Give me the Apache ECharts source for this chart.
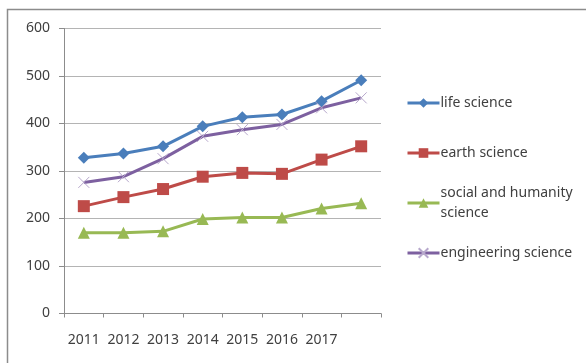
<!DOCTYPE html>
<html>
<head>
<meta charset="utf-8">
<script src="https://cdn.jsdelivr.net/npm/echarts@6/dist/echarts.min.js"></script>
<style>html,body{margin:0;padding:0;background:#fff;}#c{width:586px;height:363px;}</style>
</head>
<body>
<div id="c"></div>
<script>
const categories = ['2011','2012','2013','2014','2015','2016','2017',''];
const lifeScience = [328, 337, 352, 394, 413, 419, 447, 491];
const earthScience = [226, 245, 262, 288, 296, 294, 324, 352];
const socialScience = [170, 170, 173, 199, 202, 202, 221, 232];
const engineeringScience = [276, 288, 326, 373, 387, 398, 433, 454];
const yTicks = [0, 100, 200, 300, 400, 500, 600];

const font = 'Noto Sans';
const txt = '#404040';
const names = ['life science','earth science','social and humanity\nscience','engineering science'];
const legendCenters = [103, 153, 203, 253];

const chart = echarts.init(document.getElementById('c'), null, {renderer:'canvas'});
const xPath = 'path://M0,0L10,10M10,0L0,10';

function mkLegend(i){
  const isTwo = i === 2;
  return {
    show: true,
    orient: 'vertical',
    left: 406,
    top: isTwo ? legendCenters[i] - 30 : legendCenters[i] - 10,
    itemWidth: 32,
    itemHeight: 12,
    itemGap: 0,
    padding: 0,
    data: [names[i]],
    lineStyle: {width: 3},
    textStyle: {
      fontFamily: font, fontSize: 14, color: txt, lineHeight: 20,
      padding: isTwo ? [20, 0, 0, -4] : [0, 0, 0, -4]
    }
  };
}

const option = {
  animation: false,
  backgroundColor: '#fff',
  graphic: [{
    type: 'rect', silent: true,
    shape: {x: 7.5, y: 9.5, width: 700, height: 500},
    style: {fill: 'none', stroke: '#8c8c8c', lineWidth: 1.5}
  }],
  legend: [0,1,2,3].map(mkLegend),
  grid: {left: 64, right: 205, top: 28.5, bottom: 49.5, containLabel: false},
  xAxis: {
    type: 'category',
    data: categories,
    boundaryGap: true,
    axisLine: {lineStyle: {color: '#8c8c8c', width: 1}},
    axisTick: {show: true, alignWithLabel: false, length: 4, interval: 0, lineStyle: {color: '#8c8c8c'}},
    axisLabel: {interval: 0, margin: 20, fontFamily: font, fontSize: 14, color: txt}
  },
  yAxis: {
    type: 'value',
    min: yTicks[0], max: yTicks[yTicks.length-1], interval: 100,
    axisLine: {show: true, lineStyle: {color: '#8c8c8c', width: 1}},
    axisTick: {show: true, length: 5, lineStyle: {color: '#8c8c8c'}},
    axisLabel: {margin: 14, fontFamily: font, fontSize: 14, color: txt},
    splitLine: {lineStyle: {color: '#b4b4b4', width: 1}}
  },
  series: [
    {name: names[0], type: 'line', data: lifeScience, symbol: 'diamond', symbolSize: 12,
      lineStyle: {color: '#4A7EBB', width: 3}, itemStyle: {color: '#4A7EBB'}},
    {name: names[1], type: 'line', data: earthScience, symbol: 'rect', symbolSize: 12,
      lineStyle: {color: '#BE4B48', width: 3}, itemStyle: {color: '#BE4B48'}},
    {name: names[2], type: 'line', data: socialScience, symbol: 'triangle', symbolSize: 12,
      lineStyle: {color: '#98B954', width: 3}, itemStyle: {color: '#98B954'}},
    {name: names[3], type: 'line', data: engineeringScience, symbol: xPath, symbolSize: 11,
      lineStyle: {color: '#7D60A0', width: 3},
      itemStyle: {color: '#7D60A0', borderColor: '#B7A8CC', borderWidth: 1}}
  ]
};
chart.setOption(option);
</script>
</body>
</html>
